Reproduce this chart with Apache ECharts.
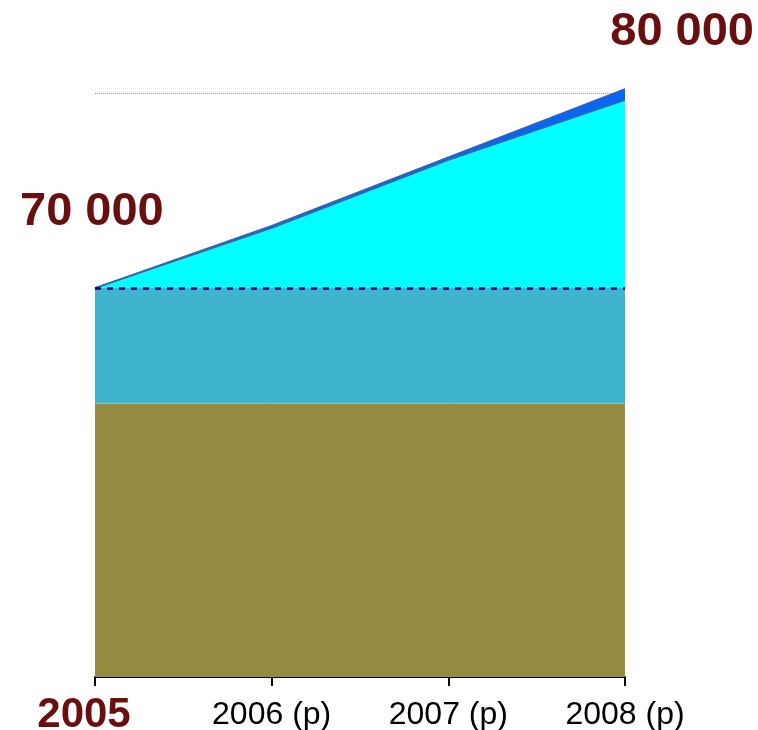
<!DOCTYPE html>
<html>
<head>
<meta charset="utf-8">
<script src="https://cdn.jsdelivr.net/npm/echarts@6/dist/echarts.min.js"></script>
<style>
  html, body { margin: 0; padding: 0; background: #fff; }
  #chart { width: 758px; height: 730px; }
</style>
</head>
<body>
<div id="chart"></div>
<script>
const years = ["2005", "2006 (p)", "2007 (p)", "2008 (p)"];

// stacked layers, bottom to top
const baseLayer = [64070, 64070, 64070, 64070];
const midLayer = [5930, 5930, 5930, 5930];
const growthLayer = [0, 3080, 6580, 9670];
const topLayer = [0, 120, 150, 570];

const yMin = 50000;
const yMax = 80000;
const yStep = 10000;
const refLevel = 70000;
const yLabels = ["70 000", "80 000"];

const font = "'Liberation Sans', Arial, sans-serif";
const dark = "#6a0f0f";
const edge = "#3b65a5";

const chart = echarts.init(document.getElementById("chart"));

function layer(name, data, color, line) {
  return {
    name: name,
    type: "line",
    stack: "total",
    data: data,
    symbol: "none",
    clip: false,
    silent: true,
    areaStyle: { color: color, opacity: 1 },
    lineStyle: line || { width: 0 },
  };
}

const series = [
  layer("base", baseLayer, "#968b41", { color: "#7cc9d8", width: 1 }),
  layer("mid", midLayer, "#3fb4cc"),
  layer("growth", growthLayer, "#00ffff", { color: edge, width: 1.5 }),
  layer("top", topLayer, "#0866f6", { color: edge, width: 1.5 }),
];

// dashed reference line at 70 000
series[3].markLine = {
  silent: true,
  symbol: "none",
  label: { show: false },
  lineStyle: { color: "#000080", type: [6, 6], width: 2.5 },
  data: [{ yAxis: refLevel }],
};

chart.setOption({
  animation: false,
  grid: { left: 95, right: 133, top: 93.5, bottom: 53, containLabel: false, outerBoundsMode: "none" },
  xAxis: {
    type: "category",
    data: years,
    boundaryGap: false,
    axisLine: { lineStyle: { color: "#000", width: 2 } },
    axisTick: { alignWithLabel: true, length: 9, lineStyle: { color: "#000", width: 2 } },
    axisLabel: {
      margin: 16,
      interval: 0,
      formatter: (v, i) => (i === 0 ? "{big|" + v + "}" : "{small|" + v + "}"),
      rich: {
        big: { fontFamily: font, fontSize: 42, fontWeight: "bold", color: dark, padding: [1, 22, 0, 0] },
        small: { fontFamily: font, fontSize: 32, color: "#000", padding: [6, 0, 0, 0] },
      },
    },
  },
  yAxis: {
    type: "value",
    min: yMin,
    max: yMax,
    interval: yStep,
    axisLine: { show: false },
    axisTick: { show: false },
    axisLabel: { show: false },
    splitLine: { lineStyle: { color: "#999", type: "dotted", width: 1 } },
  },
  graphic: [
    {
      type: "text", left: 20, top: 189,
      style: { text: yLabels[0], fontFamily: font, fontSize: 47, fontWeight: "bold", fill: dark },
    },
    {
      type: "text", right: 4, top: 9,
      style: { text: yLabels[1], fontFamily: font, fontSize: 47, fontWeight: "bold", fill: dark },
    },
  ],
  series: series,
});
</script>
</body>
</html>
